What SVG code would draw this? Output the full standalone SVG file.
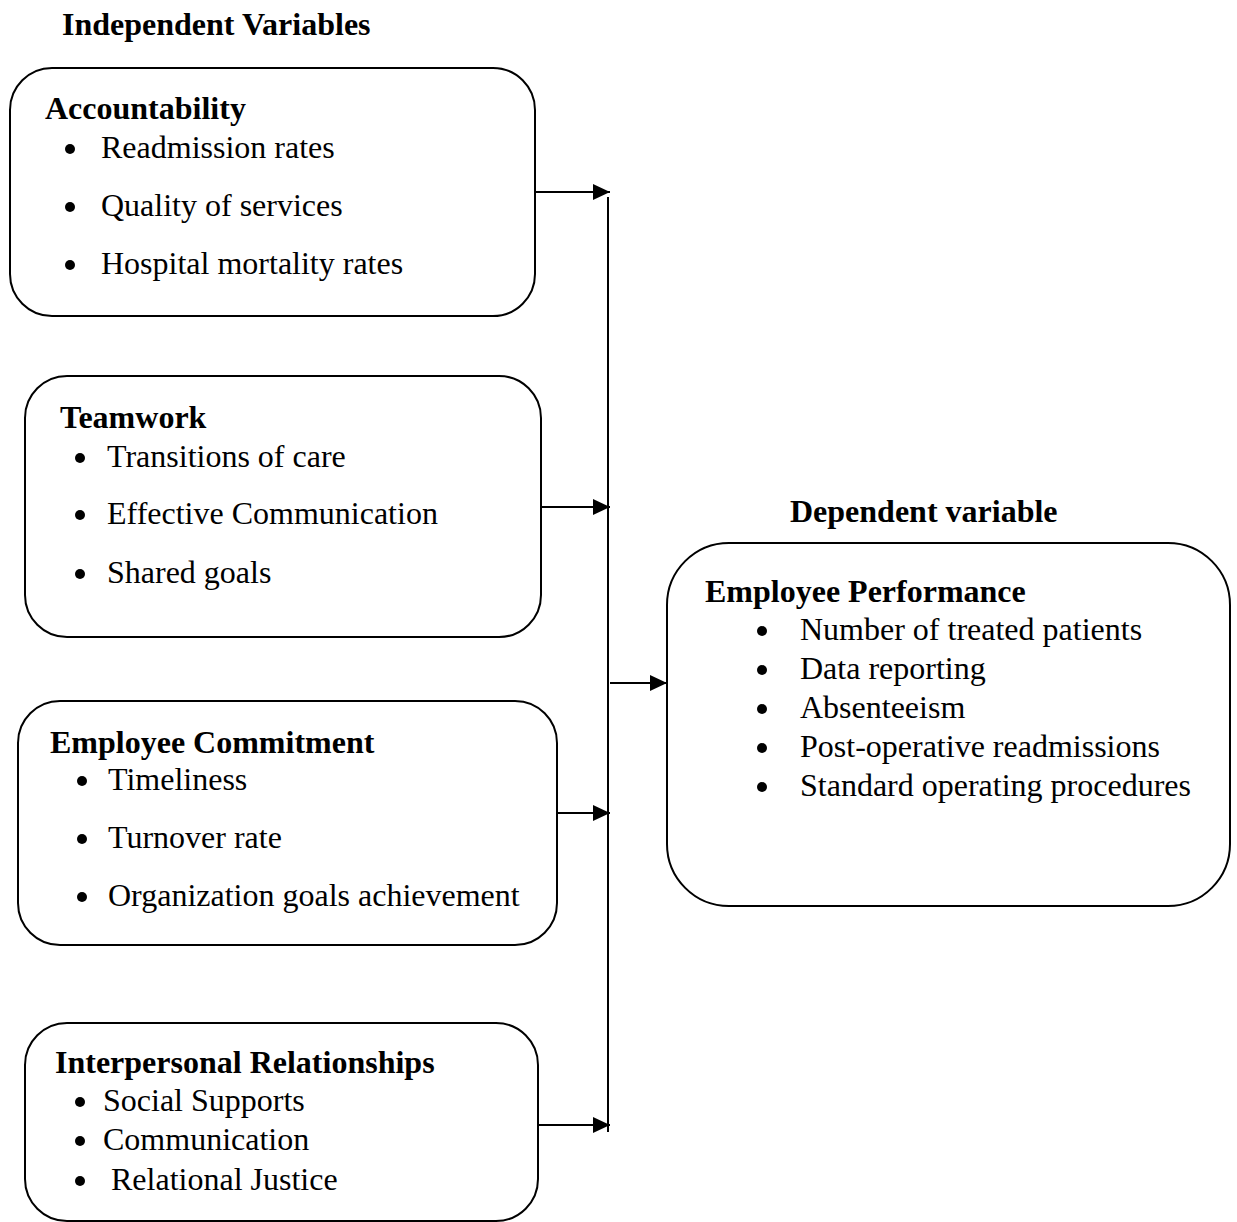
<svg xmlns="http://www.w3.org/2000/svg" width="1237" height="1222" viewBox="0 0 1237 1222">
<defs>
<style>
.box{fill:#fff;stroke:#000;stroke-width:2}
.t{font-family:"Liberation Serif","Times New Roman",serif;font-size:32px;fill:#000}
.b{font-weight:bold}
.ln{stroke:#000;stroke-width:2;fill:none}
.dot{fill:#000}
</style>
<marker id="ah" markerUnits="userSpaceOnUse" markerWidth="18" markerHeight="18" refX="17" refY="8" orient="auto">
<path d="M0,0 L17,8 L0,16 Z" fill="#000"/>
</marker>
</defs>
<rect width="1237" height="1222" fill="#fff"/>
<text class="t b" x="62" y="35">Independent Variables</text>
<text class="t b" x="790" y="522">Dependent variable</text>

<g id="accountability">
<rect class="box" x="10" y="68" width="525" height="248" rx="42"/>
<text class="t b" x="45" y="119">Accountability</text>
<circle class="dot" cx="70" cy="149" r="5"/><text class="t" x="101" y="158">Readmission rates</text>
<circle class="dot" cx="70" cy="207" r="5"/><text class="t" x="101" y="216">Quality of services</text>
<circle class="dot" cx="70" cy="265" r="5"/><text class="t" x="101" y="274">Hospital mortality rates</text>
</g>

<g id="teamwork">
<rect class="box" x="25" y="376" width="516" height="261" rx="42"/>
<text class="t b" x="60" y="428">Teamwork</text>
<circle class="dot" cx="80" cy="458" r="5"/><text class="t" x="107" y="467">Transitions of care</text>
<circle class="dot" cx="80" cy="515" r="5"/><text class="t" x="107" y="524">Effective Communication</text>
<circle class="dot" cx="80" cy="574" r="5"/><text class="t" x="107" y="583">Shared goals</text>
</g>

<g id="commitment">
<rect class="box" x="18" y="701" width="539" height="244" rx="42"/>
<text class="t b" x="50" y="753">Employee Commitment</text>
<circle class="dot" cx="82" cy="781" r="5"/><text class="t" x="108" y="790">Timeliness</text>
<circle class="dot" cx="82" cy="839" r="5"/><text class="t" x="108" y="848">Turnover rate</text>
<circle class="dot" cx="82" cy="897" r="5"/><text class="t" x="108" y="906">Organization goals achievement</text>
</g>

<g id="interpersonal">
<rect class="box" x="25" y="1023" width="513" height="198" rx="42"/>
<text class="t b" x="55" y="1073">Interpersonal Relationships</text>
<circle class="dot" cx="80" cy="1102" r="5"/><text class="t" x="103" y="1111">Social Supports</text>
<circle class="dot" cx="80" cy="1141" r="5"/><text class="t" x="103" y="1150">Communication</text>
<circle class="dot" cx="80" cy="1181" r="5"/><text class="t" x="111" y="1190">Relational Justice</text>
</g>

<g id="performance">
<rect class="box" x="667" y="543" width="563" height="363" rx="62"/>
<text class="t b" x="705" y="602">Employee Performance</text>
<circle class="dot" cx="762" cy="631" r="5"/><text class="t" x="800" y="640">Number of treated patients</text>
<circle class="dot" cx="762" cy="670" r="5"/><text class="t" x="800" y="679">Data reporting</text>
<circle class="dot" cx="762" cy="709" r="5"/><text class="t" x="800" y="718">Absenteeism</text>
<circle class="dot" cx="762" cy="748" r="5"/><text class="t" x="800" y="757">Post-operative readmissions</text>
<circle class="dot" cx="762" cy="787" r="5"/><text class="t" x="800" y="796">Standard operating procedures</text>
</g>

<g id="connectors">
<line class="ln" x1="608" y1="197" x2="608" y2="1132"/>
<line class="ln" x1="535" y1="192" x2="610" y2="192" marker-end="url(#ah)"/>
<line class="ln" x1="541" y1="507" x2="610" y2="507" marker-end="url(#ah)"/>
<line class="ln" x1="557" y1="813" x2="610" y2="813" marker-end="url(#ah)"/>
<line class="ln" x1="538" y1="1125" x2="610" y2="1125" marker-end="url(#ah)"/>
<line class="ln" x1="610" y1="683" x2="667" y2="683" marker-end="url(#ah)"/>
</g>
</svg>
